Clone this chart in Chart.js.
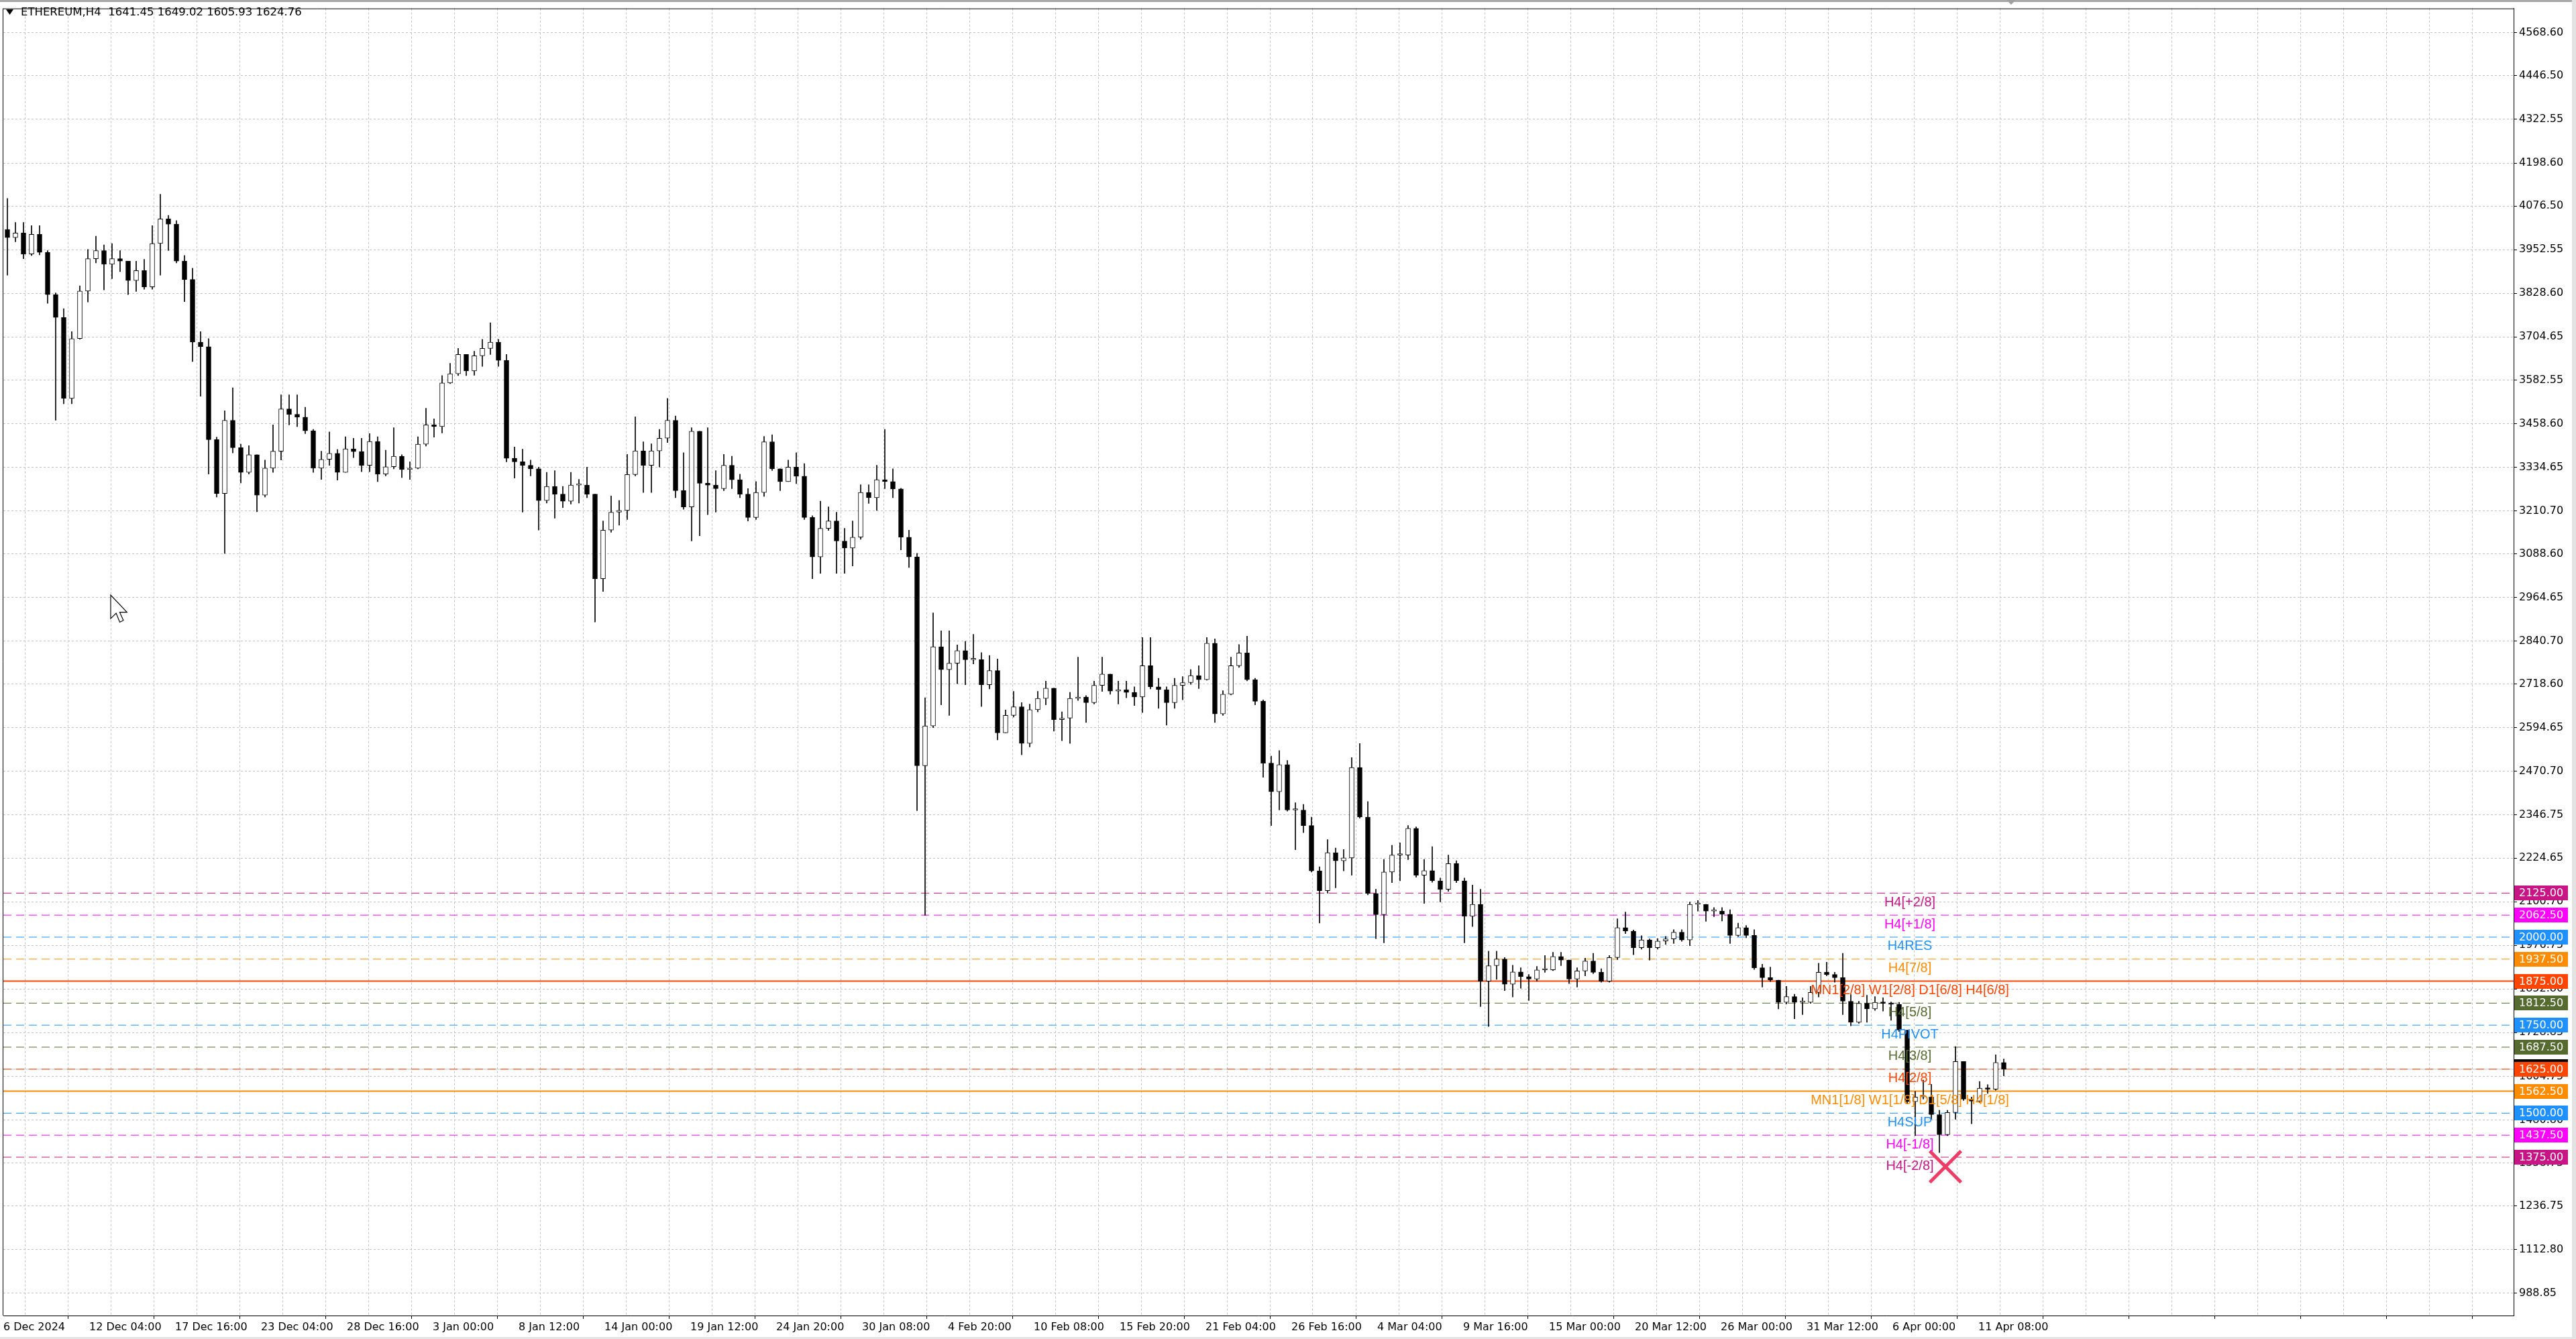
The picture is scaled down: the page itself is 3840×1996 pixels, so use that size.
<!DOCTYPE html>
<html>
<head>
<meta charset="utf-8">
<title>ETHEREUM,H4</title>
<script src="https://cdn.jsdelivr.net/npm/chart.js@4.4.1/dist/chart.umd.min.js"></script>
<style>
  html, body { margin: 0; padding: 0; background: #fff; }
  canvas { display: block; }
</style>
</head>
<body>
<canvas id="chart" width="3840" height="1996"></canvas>
<script>
// 12h candles (3 H4 bars each), 6 Dec 2024 -> 13 Apr 2025
const firstOpen = 4010;
const closes = [
  3987, 4000, 3940, 3996, 3945, 3825, 3760, 3530, 3700, 3835,
  3927, 3950, 3911, 3927, 3920, 3865, 3893, 3847, 3970, 4040,
  4025, 3920, 3868, 3690, 3677, 3413, 3260, 3468, 3390, 3320,
  3370, 3255, 3332, 3380, 3500, 3485, 3477, 3438, 3332, 3357,
  3374, 3320, 3387, 3379, 3340, 3408, 3315, 3336, 3366, 3328,
  3332, 3400, 3455, 3450, 3574, 3600, 3655, 3608, 3651, 3672,
  3690, 3638, 3360, 3350, 3340, 3330, 3240, 3280, 3258, 3238,
  3284, 3284, 3258, 3018, 3156, 3207, 3212, 3314, 3381, 3340,
  3381, 3417, 3468, 3268, 3222, 3437, 3289, 3284, 3274, 3340,
  3299, 3258, 3192, 3263, 3407, 3330, 3294, 3335, 3309, 3192,
  3080, 3161, 3182, 3125, 3105, 3136, 3263, 3248, 3299, 3294,
  3273, 3136, 3080, 2487, 2600, 2825, 2760, 2778, 2814, 2788,
  2788, 2717, 2757, 2580, 2630, 2654, 2550, 2646, 2678, 2707,
  2618, 2622, 2678, 2682, 2666, 2715, 2747, 2699, 2703, 2695,
  2682, 2771, 2711, 2703, 2666, 2715, 2723, 2743, 2731, 2835,
  2634, 2690, 2771, 2807, 2731, 2670, 2494, 2413, 2490, 2361,
  2361, 2317, 2188, 2132, 2240, 2217, 2225, 2482, 2341, 2124,
  2064, 2185, 2233, 2233, 2309, 2176, 2189, 2160, 2136, 2209,
  2160, 2059, 2093, 1875, 1919, 1938, 1866, 1901, 1888, 1881,
  1907, 1907, 1945, 1935, 1881, 1904, 1932, 1900, 1875, 1942,
  2027, 2017, 1970, 1992, 1970, 1989, 1995, 2014, 1992, 2093,
  2093, 2074, 2074, 2065, 2005, 2027, 2005, 1913, 1885, 1878,
  1815, 1831, 1815, 1815, 1843, 1900, 1894, 1885, 1818, 1758,
  1812, 1796, 1815, 1812, 1809, 1736, 1533, 1546, 1546, 1496,
  1439, 1502, 1647, 1540, 1534, 1571, 1568, 1644, 1624.76
];
const highs = [
  4098, 4030, 4030, 4021, 4021, 3950, 3830, 3785, 3720, 3850,
  3953, 3991, 3966, 3970, 3950, 3920, 3920, 3925, 4021, 4110,
  4050, 4035, 3936, 3900, 3720, 3700, 3420, 3495, 3560, 3400,
  3396, 3370, 3355, 3455, 3540, 3540, 3540, 3505, 3442, 3380,
  3435, 3385, 3421, 3417, 3417, 3430, 3421, 3383, 3447, 3370,
  3350, 3421, 3502, 3472, 3595, 3630, 3672, 3655, 3664, 3698,
  3745, 3698, 3655, 3392, 3386, 3355, 3335, 3320, 3325, 3280,
  3320, 3300, 3335, 3258, 3182, 3253, 3240, 3371, 3478, 3407,
  3401, 3442, 3530, 3480, 3376, 3447, 3437, 3447, 3325, 3371,
  3366, 3315, 3274, 3294, 3422, 3427, 3330, 3355, 3376, 3345,
  3197, 3238, 3222, 3207, 3161, 3182, 3285, 3285, 3340, 3442,
  3330, 3275, 3156, 3090, 2680, 2921, 2870, 2870, 2830, 2840,
  2860, 2808, 2800, 2790, 2645, 2698, 2666, 2662, 2698, 2727,
  2707, 2640, 2695, 2795, 2686, 2727, 2795, 2747, 2727, 2727,
  2711, 2851, 2851, 2735, 2711, 2735, 2740, 2760, 2771, 2851,
  2847, 2700, 2795, 2831, 2855, 2735, 2674, 2514, 2530, 2502,
  2382, 2377, 2341, 2200, 2277, 2253, 2249, 2510, 2550, 2385,
  2136, 2221, 2261, 2268, 2317, 2313, 2221, 2257, 2168, 2233,
  2217, 2168, 2148, 2136, 1960, 1960, 1942, 1920, 1913, 1894,
  1917, 1948, 1957, 1957, 1935, 1913, 1940, 1954, 1910, 1948,
  2052, 2071, 2020, 2004, 1995, 1996, 2002, 2021, 2021, 2100,
  2104, 2093, 2084, 2084, 2078, 2040, 2033, 2021, 1923, 1915,
  1878, 1860, 1838, 1828, 1860, 1926, 1929, 1900, 1954, 1837,
  1818, 1835, 1831, 1828, 1816, 1815, 1736, 1562, 1594, 1582,
  1508, 1508, 1689, 1647, 1546, 1590, 1581, 1666, 1654
];
const lows = [
  3880, 3975, 3927, 3936, 3938, 3800, 3468, 3515, 3515, 3698,
  3804, 3915, 3838, 3870, 3890, 3825, 3834, 3840, 3840, 3880,
  3950, 3915, 3805, 3635, 3536, 3315, 3250, 3090, 3375, 3290,
  3315, 3208, 3250, 3320, 3355, 3455, 3450, 3430, 3320, 3300,
  3340, 3298, 3320, 3362, 3322, 3322, 3294, 3310, 3330, 3305,
  3300, 3330, 3395, 3420, 3432, 3572, 3595, 3595, 3596, 3621,
  3655, 3621, 3350, 3304, 3207, 3310, 3156, 3233, 3190, 3220,
  3230, 3233, 3248, 2895, 2982, 3150, 3170, 3186, 3310, 3263,
  3263, 3335, 3405, 3248, 3215, 3125, 3140, 3200, 3207, 3268,
  3274, 3248, 3182, 3186, 3252, 3325, 3268, 3294, 3288, 3186,
  3018, 3033, 3155, 3033, 3033, 3054, 3130, 3232, 3212, 3274,
  3248, 3100, 3050, 2359, 2062, 2595, 2660, 2630, 2720, 2717,
  2776, 2655, 2705, 2560, 2580, 2625, 2518, 2540, 2640, 2660,
  2585, 2558, 2550, 2672, 2610, 2662, 2698, 2690, 2662, 2680,
  2658, 2638, 2705, 2650, 2602, 2650, 2674, 2718, 2706, 2730,
  2610, 2630, 2688, 2766, 2728, 2660, 2454, 2317, 2361, 2358,
  2248, 2297, 2185, 2040, 2125, 2140, 2188, 2176, 2338, 2120,
  1996, 1984, 2155, 2160, 2220, 2170, 2096, 2156, 2100, 2130,
  2155, 1984, 2030, 1803, 1746, 1880, 1848, 1830, 1855, 1820,
  1875, 1900, 1905, 1919, 1868, 1858, 1890, 1896, 1872, 1872,
  1936, 2010, 1950, 1966, 1935, 1966, 1979, 1982, 1988, 1976,
  2074, 2045, 2058, 2046, 1982, 2002, 1998, 1908, 1858, 1874,
  1796, 1810, 1768, 1780, 1812, 1830, 1890, 1872, 1780, 1748,
  1755, 1758, 1792, 1790, 1764, 1732, 1527, 1436, 1540, 1483,
  1388, 1436, 1483, 1536, 1470, 1530, 1556, 1565, 1605.93
];

const xTickLabels = [
  '6 Dec 2024', '12 Dec 04:00', '17 Dec 16:00', '23 Dec 04:00', '28 Dec 16:00',
  '3 Jan 00:00', '8 Jan 12:00', '14 Jan 00:00', '19 Jan 12:00', '24 Jan 20:00',
  '30 Jan 08:00', '4 Feb 20:00', '10 Feb 08:00', '15 Feb 20:00', '21 Feb 04:00',
  '26 Feb 16:00', '4 Mar 04:00', '9 Mar 16:00', '15 Mar 00:00', '20 Mar 12:00',
  '26 Mar 00:00', '31 Mar 12:00', '6 Apr 00:00', '11 Apr 08:00'
];
const yTickValues = [
  4568.60, 4446.50, 4322.55, 4198.60, 4076.50, 3952.55, 3828.60, 3704.65,
  3582.55, 3458.60, 3334.65, 3210.70, 3088.60, 2964.65, 2840.70, 2718.60,
  2594.65, 2470.70, 2346.75, 2224.65, 2100.70, 1976.75, 1852.80, 1728.85,
  1604.75, 1480.80, 1358.75, 1236.75, 1112.80, 988.85
];

// Murrey-style levels drawn on the chart
const levelPrices = [2125, 2062.5, 2000, 1937.5, 1875, 1812.5, 1750, 1687.5, 1625, 1562.5, 1500, 1437.5, 1375];
const levelNames = [
  'H4[+2/8]', 'H4[+1/8]', 'H4RES', 'H4[7/8]', 'MN1[2/8] W1[2/8] D1[6/8] H4[6/8]',
  'H4[5/8]', 'H4PIVOT', 'H4[3/8]', 'H4[2/8]', 'MN1[1/8] W1[1/8] D1[5/8] H4[1/8]',
  'H4SUP', 'H4[-1/8]', 'H4[-2/8]'
];
const levelColors = [
  '#C71585', '#FF00FF', '#1E90FF', '#FF8C00', '#FF4500', '#556B2F', '#1E90FF',
  '#556B2F', '#FF4500', '#FF8C00', '#1E90FF', '#FF00FF', '#C71585'
];
const levelSolid = [false, false, false, false, true, false, false, false, false, true, false, false, false];

const titleValues = ['1641.45', '1649.02', '1605.93', '1624.76'];
const bidPrice = 1624.76;
const signalBar = 723.75;
const signalPrice = 1348;

// layout helpers (H4 bar units on the x axis)
const BARS_PER_CANDLE = 3;
const X_MAX = 935.5;
const LABEL_BAR = 710.5;

const candles = closes.map((c, i) => ({
  x: i * BARS_PER_CANDLE + 1.5,
  o: i === 0 ? firstOpen : closes[i - 1],
  h: highs[i], l: lows[i], c: c
}));

Chart.defaults.font.family = '"DejaVu Sans", Verdana, sans-serif';
Chart.defaults.color = '#000';

const datasets = [
  {
    type: 'bar',
    data: candles.map(k => ({ x: k.x, y: [k.o, k.c] })),
    backgroundColor: candles.map(k => (k.c >= k.o ? '#ffffff' : '#000000')),
    borderColor: '#000000',
    borderWidth: 1,
    borderSkipped: false,
    barThickness: 7,
    minBarLength: 2,
    grouped: false,
    order: 1
  },
  {
    type: 'bar',
    data: candles.map(k => ({ x: k.x, y: [k.l, k.h] })),
    backgroundColor: '#000000',
    borderWidth: 0,
    barThickness: 1,
    grouped: false,
    order: 2
  }
];

levelPrices.forEach((p, i) => {
  datasets.push({
    type: 'line',
    data: [{ x: 0, y: p }, { x: X_MAX, y: p }],
    borderColor: levelColors[i],
    borderWidth: levelSolid[i] ? 2 : 1,
    borderDash: levelSolid[i] ? [] : [12, 7],
    pointRadius: 0,
    order: 3
  });
});

datasets.push({
  type: 'line',
  data: [{ x: 0, y: bidPrice }, { x: X_MAX, y: bidPrice }],
  borderColor: '#c0c0c0',
  borderWidth: 1,
  pointRadius: 0,
  order: 4
});

datasets.push({
  type: 'line',
  data: [{ x: signalBar, y: signalPrice }],
  showLine: false,
  pointStyle: 'crossRot',
  pointRadius: 33,
  borderWidth: 5,
  borderColor: '#ee3d66',
  order: 0
});

const overlay = {
  id: 'overlay',
  beforeDraw(chart) {
    const { ctx, width, height } = chart;
    ctx.save();
    ctx.fillStyle = '#ffffff';
    ctx.fillRect(0, 0, width, height);
    ctx.restore();
  },
  afterDatasetsDraw(chart) {
    const { ctx, scales: { x, y } } = chart;
    ctx.save();
    ctx.font = '20px "Liberation Sans", Arial, sans-serif';
    ctx.textAlign = 'center';
    ctx.textBaseline = 'middle';
    levelPrices.forEach((p, i) => {
      ctx.fillStyle = levelColors[i];
      ctx.fillText(levelNames[i], x.getPixelForValue(LABEL_BAR), y.getPixelForValue(p) + 14);
    });
    ctx.restore();
  },
  afterDraw(chart) {
    const { ctx, chartArea: a, scales: { y }, width, height } = chart;
    ctx.save();

    // window frame
    ctx.fillStyle = '#a9a9a9';
    ctx.fillRect(0, 0, width, 3);
    ctx.fillStyle = '#e3e3e3';
    ctx.fillRect(width - 6, 0, 6, height);
    ctx.fillRect(0, height - 3, width, 3);
    ctx.strokeStyle = '#000';
    ctx.lineWidth = 1;
    ctx.beginPath();
    ctx.moveTo(a.left - 0.5, a.top + 0.5);
    ctx.lineTo(a.right, a.top + 0.5);
    ctx.moveTo(a.left - 0.5, a.top);
    ctx.lineTo(a.left - 0.5, a.bottom);
    ctx.stroke();

    // chart shift marker
    ctx.fillStyle = '#a0a0a0';
    ctx.beginPath();
    ctx.moveTo(2991, 0);
    ctx.lineTo(3005, 0);
    ctx.lineTo(2998, 7);
    ctx.closePath();
    ctx.fill();

    // price badges on the right axis
    ctx.font = '16px "DejaVu Sans", Verdana, sans-serif';
    ctx.textAlign = 'left';
    ctx.textBaseline = 'middle';
    const bidY = Math.round(y.getPixelForValue(bidPrice));
    ctx.fillStyle = '#000';
    ctx.fillRect(a.right + 1, bidY - 15, 80, 22);
    levelPrices.forEach((p, i) => {
      const py = Math.round(y.getPixelForValue(p));
      ctx.fillStyle = levelColors[i];
      ctx.fillRect(a.right + 1, py - 11, 80, 22);
      ctx.fillStyle = '#fff';
      ctx.fillText(p.toFixed(2), a.right + 8, py + 1);
    });

    // title
    ctx.fillStyle = '#000';
    ctx.beginPath();
    ctx.moveTo(9, 14);
    ctx.lineTo(20, 14);
    ctx.lineTo(14.5, 22);
    ctx.closePath();
    ctx.fill();
    ctx.font = '16.5px "DejaVu Sans", Verdana, sans-serif';
    ctx.fillText('ETHEREUM,H4  ' + titleValues.join(' '), 31, 19);

    // mouse pointer left on the chart
    const cx = 165, cy = 887, s = 1.35;
    const arrow = [[0, 0], [0, 26], [6, 20], [10, 30], [14, 28], [10, 19], [18, 19]];
    ctx.beginPath();
    arrow.forEach(([px, py], i) => {
      const X = cx + px * s, Y = cy + py * s;
      if (i === 0) ctx.moveTo(X, Y); else ctx.lineTo(X, Y);
    });
    ctx.closePath();
    ctx.fillStyle = '#fff';
    ctx.fill();
    ctx.strokeStyle = '#000';
    ctx.lineWidth = 1.2;
    ctx.stroke();

    ctx.restore();
  }
};

new Chart(document.getElementById('chart'), {
  type: 'bar',
  data: { datasets },
  options: {
    responsive: false,
    animation: false,
    devicePixelRatio: 1,
    layout: { autoPadding: false, padding: { left: 5, top: 4, right: 0, bottom: 0 } },
    plugins: {
      legend: { display: false },
      tooltip: { enabled: false }
    },
    scales: {
      x: {
        type: 'linear',
        min: 0,
        max: X_MAX,
        offset: false,
        afterFit: s => { s.height = 35; },
        afterBuildTicks: s => {
          const t = [];
          for (let v = 0; v <= X_MAX; v += 16) t.push({ value: v });
          s.ticks = t;
        },
        ticks: {
          autoSkip: false,
          maxRotation: 0,
          minRotation: 0,
          align: 'start',
          padding: 3,
          font: { size: 16 },
          callback: (v, i) => (i % 2 === 0 ? (xTickLabels[i / 2] || '') : '')
        },
        grid: {
          color: '#c0c0c0',
          tickLength: 5,
          tickColor: c => (c.index % 2 === 0 ? '#000' : 'rgba(0,0,0,0)')
        },
        border: { color: '#000', width: 1, dash: [3, 3] }
      },
      y: {
        position: 'right',
        min: 925.3,
        max: 4637.65,
        afterFit: s => { s.width = 93; },
        afterBuildTicks: s => { s.ticks = yTickValues.map(v => ({ value: v })); },
        ticks: {
          autoSkip: false,
          padding: 3,
          font: { size: 16 },
          callback: v => v.toFixed(2)
        },
        grid: {
          color: '#c0c0c0',
          tickLength: 5,
          tickColor: '#000'
        },
        border: { color: '#000', width: 1, dash: [3, 3] }
      }
    }
  },
  plugins: [overlay]
});
</script>
</body>
</html>
